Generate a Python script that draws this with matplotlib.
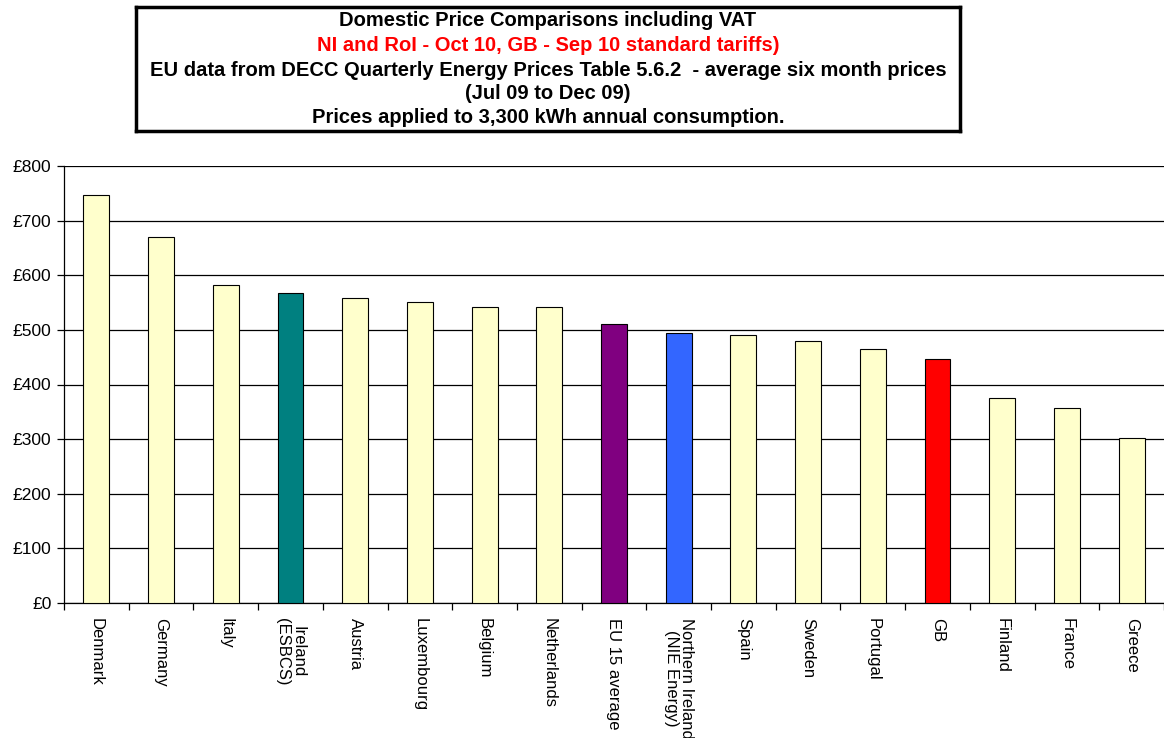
import matplotlib
matplotlib.use("Agg")
import matplotlib.pyplot as plt
from matplotlib.ticker import FuncFormatter, FixedLocator
import numpy as np

plt.rcParams['font.family'] = ['Liberation Sans', 'DejaVu Sans']

categories = ["Denmark", "Germany", "Italy", "Ireland\n(ESBCS)", "Austria", "Luxembourg",
              "Belgium", "Netherlands", "EU 15 average", "Northern Ireland\n(NIE Energy)",
              "Spain", "Sweden", "Portugal", "GB", "Finland", "France", "Greece"]
values = [747, 670, 583, 567, 558, 551, 541, 541, 511, 494, 491, 480, 465, 446, 376, 357, 302]
colors = ["#FFFFCC", "#FFFFCC", "#FFFFCC", "#008080", "#FFFFCC", "#FFFFCC", "#FFFFCC",
          "#FFFFCC", "#800080", "#3366FF", "#FFFFCC", "#FFFFCC", "#FFFFCC", "#FF0000",
          "#FFFFCC", "#FFFFCC", "#FFFFCC"]
yticks = [0, 100, 200, 300, 400, 500, 600, 700, 800]

fig = plt.figure(figsize=(11.64, 7.38), dpi=100)
ax = fig.add_axes([64/1164, 1-603/738, 1100/1164, 437/738])

x = np.arange(len(categories))
ax.bar(x, values, width=0.4, color=colors, edgecolor="black", linewidth=0.8, zorder=3)
ax.set_xlim(-0.5, len(categories) - 0.5)
ax.set_ylim(0, 800)
ax.set_yticks(yticks)
ax.yaxis.set_major_formatter(FuncFormatter(lambda v, p: f"£{int(v)}"))
ax.grid(axis="y", color="black", linewidth=0.9, zorder=0)
for s in ["top", "right"]:
    ax.spines[s].set_visible(False)
ax.spines["left"].set_linewidth(0.9)
ax.spines["bottom"].set_linewidth(0.9)

ax.set_xticks(x)
ax.set_xticklabels(categories, rotation=270, va="top", ha="center", fontsize=12,
                   linespacing=1.0)
ax.tick_params(axis="x", which="major", length=0, pad=11)
ax.xaxis.set_minor_locator(FixedLocator(np.arange(-0.5, len(categories), 1.0)))
ax.tick_params(axis="x", which="minor", length=5, width=0.9, direction="out")
ax.tick_params(axis="y", length=5, width=0.9, direction="out", labelsize=12.5, pad=4)

# title box
box_ax = fig.add_axes([136/1164, 1-131/738, 824/1164, 124/738])
box_ax.set_xticks([])
box_ax.set_yticks([])
for s in box_ax.spines.values():
    s.set_linewidth(2.5)
lines = [
    ("Domestic Price Comparisons including VAT", "black"),
    ("NI and RoI - Oct 10, GB - Sep 10 standard tariffs)", "red"),
    ("EU data from DECC Quarterly Energy Prices Table 5.6.2  - average six month prices", "black"),
    ("(Jul 09 to Dec 09)", "black"),
    ("Prices applied to 3,300 kWh annual consumption.", "black"),
]
ys = [0.895, 0.69, 0.49, 0.30, 0.11]
for (t, c), yy in zip(lines, ys):
    box_ax.text(0.5, yy, t, color=c, ha="center", va="center", fontsize=14.5,
                fontweight="bold", transform=box_ax.transAxes)

fig.savefig("out.png", dpi=100)
